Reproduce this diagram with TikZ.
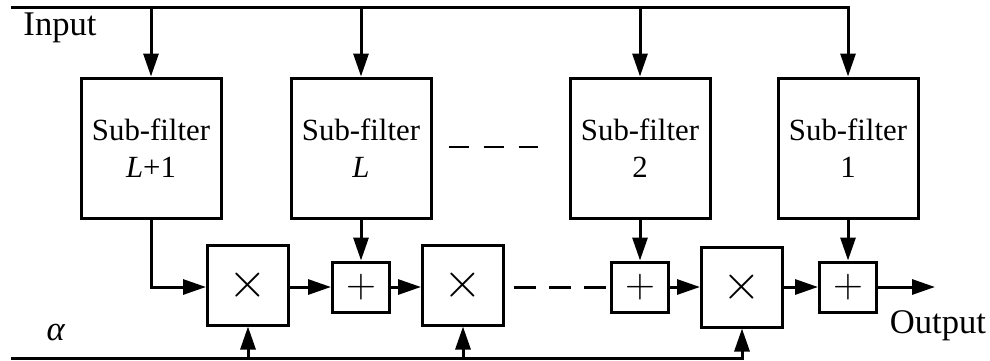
\documentclass[tikz,border=0pt]{standalone}
\usepackage{fontspec}
\setmainfont{Liberation Serif}
\usetikzlibrary{arrows.meta,calc}
\begin{document}
\begin{tikzpicture}[x=0.5pt,y=-0.5pt,
  line width=1.5pt,
  every node/.style={font=\fontsize{15.4}{18.5}\selectfont},
  filt/.style={draw,line width=1.5pt,minimum width=70pt,minimum height=70pt,align=center,inner sep=0pt},
  mult/.style={draw,line width=1.5pt,minimum width=40.5pt,minimum height=40pt,inner sep=0pt,font=\fontsize{28}{28}\selectfont},
  addb/.style={draw,line width=1.5pt,minimum width=28.5pt,minimum height=25pt,inner sep=0pt,font=\fontsize{22}{22}\selectfont},
  arr/.style={-{Triangle[length=11.5pt,width=7.5pt]}},
  lbl/.style={inner sep=0pt,font=\fontsize{17.3}{20}\selectfont}]
\useasboundingbox (0,0) rectangle (990,360);
% sub-filters
\node[filt] (sf1) at (151,148) {Sub-filter\\\textit{L}+1};
\node[filt] (sf2) at (361,148) {Sub-filter\\\textit{L}};
\node[filt] (sf3) at (640,148) {Sub-filter\\2};
\node[filt] (sf4) at (848,148) {Sub-filter\\1};
% multipliers and adders
\node[mult] (mA) at (248,285) {$\times$};
\node[addb] (aL) at (361,287) {$+$};
\node[mult] (mB) at (463,285) {$\times$};
\node[addb] (a2) at (640,287) {$+$};
\node[mult] (mC) at (742,287) {$\times$};
\node[addb] (a1) at (848,287) {$+$};
% labels
\node[lbl] (inlbl) at (60,28) {Input};
\node[lbl] (outlbl) at (938,326) {Output};
\node[lbl] (alpha) at (56,333) {\textit{α}};
% coordinates
\coordinate (inL) at (11,7);
\coordinate (alL) at (11,358);
\coordinate (out) at (935,287);
% input bus
\draw[arr] (inL) -| (sf4.north);
\draw[arr] (sf1.north |- inL) -- (sf1.north);
\draw[arr] (sf2.north |- inL) -- (sf2.north);
\draw[arr] (sf3.north |- inL) -- (sf3.north);
% alpha bus
\draw[arr] (alL) -| (mC.south);
\draw[arr] (mA.south |- alL) -- (mA.south);
\draw[arr] (mB.south |- alL) -- (mB.south);
% signal chain
\draw[arr] (sf1.south) |- (mA.west |- aL.west);
\draw[arr] (mA.east |- aL.west) -- (aL.west);
\draw[arr] (sf2.south) -- (aL.north);
\draw[arr] (aL.east) -- (mB.west |- aL.east);
\draw[dash pattern=on 11pt off 6.5pt,shorten <=4.5pt] (mB.east |- a2.west) -- (a2.west);
\draw[arr] (sf3.south) -- (a2.north);
\draw[arr] (a2.east) -- (mC.west);
\draw[arr] (mC.east) -- (a1.west);
\draw[arr] (sf4.south) -- (a1.north);
\draw[arr] (a1.east) -- (out);
% ellipsis dashes between sub-filters
\draw[line width=0.6pt,dash pattern=on 10pt off 7.5pt] ($(sf2.east)+(16,-1)$) -- ($(sf3.west)+(-31,-1)$);
\end{tikzpicture}
\end{document}
